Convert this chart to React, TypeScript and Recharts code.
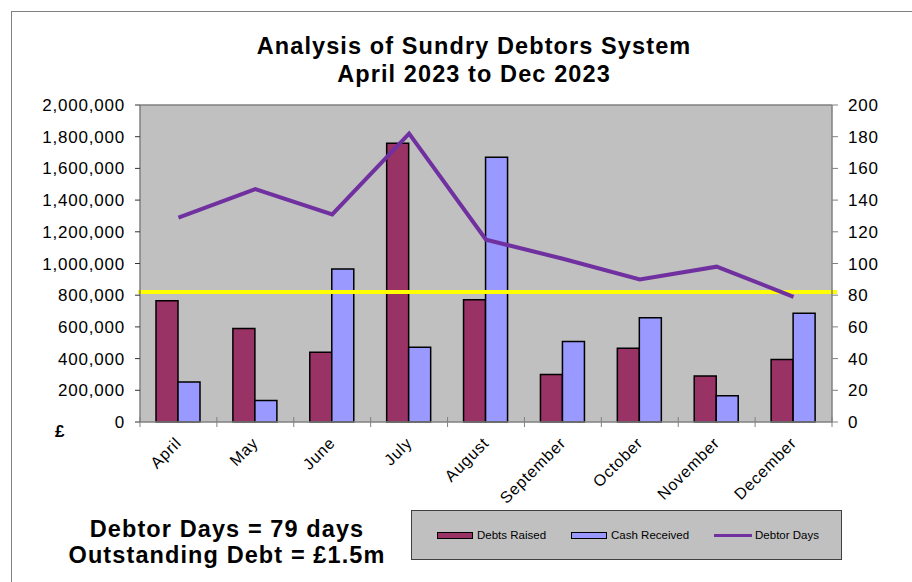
import React from 'react';
import {
  ComposedChart,
  Bar,
  Line,
  XAxis,
  YAxis,
  CartesianGrid,
  ReferenceLine,
  Legend
} from 'recharts';

const months = ['April', 'May', 'June', 'July', 'August', 'September', 'October', 'November', 'December'];
const debtsRaised = [765000, 590000, 440000, 1758000, 772000, 300000, 465000, 290000, 395000];
const cashReceived = [252000, 135000, 965000, 472000, 1670000, 508000, 658000, 165000, 686000];
const debtorDays = [129, 147, 131, 182, 115, 103, 90, 98, 79];
const targetDays = 82;
const poundTicks = [0, 200000, 400000, 600000, 800000, 1000000, 1200000, 1400000, 1600000, 1800000, 2000000];
const dayTicks = [0, 20, 40, 60, 80, 100, 120, 140, 160, 180, 200];
const seriesNames = ['Debts Raised', 'Cash Received', 'Debtor Days'];

const data = months.map((month, i) => ({
  month,
  debts: debtsRaised[i],
  cash: cashReceived[i],
  days: debtorDays[i]
}));

const FONT = '"Liberation Sans", Arial, sans-serif';
const CHART_W = 912;
const CHART_H = 582;

const MonthTick = (props: any) => {
  const { x, y, payload, index, width } = props;
  const band = (width || 692) / months.length;
  const left = x - band / 2;
  return (
    <g>
      <line x1={left} x2={left} y1={y - 5} y2={y + 5} stroke="#808080" strokeWidth={1} />
      {index === months.length - 1 && (
        <line x1={left + band} x2={left + band} y1={y - 5} y2={y + 5} stroke="#808080" strokeWidth={1} />
      )}
      <text
        transform={`translate(${x + 4},${y + 22}) rotate(-45)`}
        textAnchor="end"
        fontSize={16}
        letterSpacing={0.8}
        fontFamily={FONT}
        fill="#000"
      >
        {payload.value}
      </text>
    </g>
  );
};

const LegendBox = ({ payload }: any) => {
  const items = [...(payload || [])].sort(
    (a: any, b: any) => seriesNames.indexOf(a.value) - seriesNames.indexOf(b.value)
  );
  return (
    <div
      style={{
        width: 431,
        height: 50,
        boxSizing: 'border-box',
        background: '#c0c0c0',
        border: '1.5px solid #404040',
        display: 'flex',
        alignItems: 'center',
        paddingLeft: 25,
        fontFamily: FONT,
        fontSize: 11.5,
        color: '#000',
        whiteSpace: 'nowrap'
      }}
    >
      {items.map((entry: any) => (
        <div key={entry.value} style={{ display: 'flex', alignItems: 'center', marginRight: 25, flexShrink: 0 }}>
          {entry.type === 'line' ? (
            <span style={{ width: 38, height: 3, background: entry.color, marginRight: 3 }} />
          ) : (
            <span
              style={{
                width: 36,
                height: 7,
                boxSizing: 'border-box',
                background: entry.color,
                border: '1.5px solid #000',
                marginRight: 4
              }}
            />
          )}
          <span>{entry.value}</span>
        </div>
      ))}
    </div>
  );
};

const TargetLine = (props: any) => {
  const { x1, x2, y1, y2 } = props;
  const lo = Math.min(x1, x2);
  const hi = Math.max(x1, x2);
  return <line x1={lo - 2} x2={hi + 5} y1={y1} y2={y2} stroke="#FFFF00" strokeWidth={4} />;
};

export default function App() {
  return (
    <div style={{ position: 'absolute', left: 0, top: 0, width: CHART_W, height: CHART_H, background: '#fff', overflow: 'hidden' }}>
      <div
        style={{
          position: 'absolute',
          left: 11,
          top: 11,
          width: 920,
          height: 600,
          border: '1.5px solid #808080'
        }}
      />
      <div
        style={{
          position: 'absolute',
          left: 174,
          width: 600,
          top: 32,
          textAlign: 'center',
          fontFamily: FONT,
          fontWeight: 'bold',
          fontSize: 23.5,
          letterSpacing: 1.1,
          lineHeight: '28px'
        }}
      >
        Analysis of Sundry Debtors System
        <br />
        April 2023 to Dec 2023
      </div>
      <ComposedChart
        width={CHART_W}
        height={CHART_H}
        data={data}
        margin={{ top: 105, right: 0, bottom: 0, left: 0 }}
        barGap={0}
      >
        <CartesianGrid fill="#c0c0c0" horizontal={false} vertical={false} />
        <XAxis
          dataKey="month"
          height={160}
          tickLine={false}
          tickSize={0}
          tickMargin={0}
          axisLine={{ stroke: '#808080', strokeWidth: 1.5 }}
          interval={0}
          tick={<MonthTick />}
        />
        <YAxis
          yAxisId="left"
          width={140}
          domain={[0, 2000000]}
          ticks={poundTicks}
          interval={0}
          tickSize={5}
          tickMargin={10}
          axisLine={{ stroke: '#808080', strokeWidth: 1.5 }}
          tickLine={{ stroke: '#333' }}
          tickFormatter={(v: number) => v.toLocaleString('en-US')}
          tick={{ fill: '#000', fontSize: 17, letterSpacing: 0.8, fontFamily: FONT }}
        />
        <YAxis
          yAxisId="right"
          orientation="right"
          width={80}
          domain={[0, 200]}
          ticks={dayTicks}
          interval={0}
          tickSize={6}
          tickMargin={10}
          axisLine={{ stroke: '#808080', strokeWidth: 1.5 }}
          tickLine={{ stroke: '#808080' }}
          tick={{ fill: '#000', fontSize: 17, letterSpacing: 0.8, fontFamily: FONT }}
        />
        <ReferenceLine yAxisId="left" y={2000000} stroke="#808080" strokeWidth={1.5} />
        <Bar
          yAxisId="left"
          dataKey="debts"
          name="Debts Raised"
          fill="#993366"
          stroke="#000"
          strokeWidth={1.5}
          barSize={22}
          legendType="rect"
          isAnimationActive={false}
        />
        <Bar
          yAxisId="left"
          dataKey="cash"
          name="Cash Received"
          fill="#9999FF"
          stroke="#000"
          strokeWidth={1.5}
          barSize={22}
          legendType="rect"
          isAnimationActive={false}
        />
        <ReferenceLine yAxisId="right" y={targetDays} shape={<TargetLine />} />
        <Line
          yAxisId="right"
          type="linear"
          dataKey="days"
          name="Debtor Days"
          stroke="#7030A0"
          strokeWidth={4}
          dot={false}
          activeDot={false}
          legendType="line"
          isAnimationActive={false}
        />
        <Legend
          layout="horizontal"
          verticalAlign="middle"
          align="center"
          content={<LegendBox />}
          wrapperStyle={{ left: 411, top: 510, width: 431, height: 50 }}
        />
      </ComposedChart>
      <div
        style={{
          position: 'absolute',
          left: 55,
          top: 423,
          fontFamily: FONT,
          fontWeight: 'bold',
          fontSize: 17,
          lineHeight: '17px'
        }}
      >
        £
      </div>
      <div
        style={{
          position: 'absolute',
          left: 27,
          width: 400,
          top: 516,
          textAlign: 'center',
          fontFamily: FONT,
          fontWeight: 'bold',
          fontSize: 23.5,
          letterSpacing: 1.1,
          lineHeight: '26px'
        }}
      >
        Debtor Days = 79 days
        <br />
        Outstanding Debt = £1.5m
      </div>
    </div>
  );
}
